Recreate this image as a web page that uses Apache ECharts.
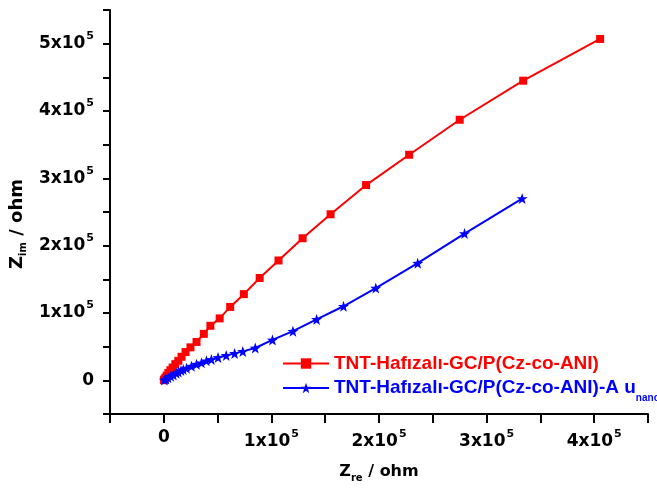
<!DOCTYPE html>
<html>
<head>
<meta charset="utf-8">
<script src="https://cdn.jsdelivr.net/npm/echarts@6/dist/echarts.min.js"></script>
<style>html,body{margin:0;padding:0;background:#fff;}#c{width:657px;height:489px;}</style>
</head>
<body>
<div id="c"></div>
<script>
// Data (ohm)
const redName = 'TNT-Hafızalı-GC/P(Cz-co-ANI)';
const blueName = 'TNT-Hafızalı-GC/P(Cz-co-ANI)-Au nano';
const redZre = [100, 600, 1500, 2700, 4200, 6100, 8200, 10700, 13500, 16500, 20200, 24800, 30400, 37200, 43300, 51900, 61700, 74400, 89100, 106600, 129000, 155000, 188000, 228000, 275000, 334000, 405500];
const redZim = [200, 1500, 4000, 7000, 11000, 15000, 19000, 24000, 29000, 35000, 42000, 49000, 57000, 69000, 81000, 92000, 109000, 128000, 152000, 178000, 211000, 246600, 290000, 335000, 387000, 445000, 507000];
const blueZre = [500, 2000, 4000, 6500, 8900, 11500, 13500, 16000, 18100, 21100, 25700, 30400, 35000, 39600, 44200, 50400, 58000, 65800, 73400, 85000, 101000, 120000, 142000, 167000, 197000, 236000, 279500, 333000];
const blueZim = [500, 2000, 4000, 6000, 8000, 10500, 12400, 14500, 16000, 18000, 21000, 24000, 26000, 29000, 31000, 34000, 37000, 40000, 43000, 48000, 60000, 73000, 90500, 110000, 137000, 174000, 218000, 270000];
const tickValues = [0, 100000, 200000, 300000, 400000, 500000];
const tickMantissa = ['0', '1x10', '2x10', '3x10', '4x10', '5x10'];
const tickExponent = ['', '5', '5', '5', '5', '5'];

const star = 'path://M0,-10L2.35,-3.24L9.51,-3.09L3.8,1.24L5.88,8.09L0,4L-5.88,8.09L-3.8,1.24L-9.51,-3.09L-2.35,-3.24Z';
const FONT = 'Liberation Sans';
const TFONT = 'DejaVu Sans';

function tickLabel(v) {
  const i = tickValues.indexOf(v);
  if (i < 0) return '';
  if (tickExponent[i] === '') return '{m|' + tickMantissa[i] + '}';
  return '{m|' + tickMantissa[i] + '}{e|' + tickExponent[i] + '}';
}
const labelRich = {
  m: {fontFamily: TFONT, fontWeight: 'bold', fontSize: 17, color: '#000'},
  e: {fontFamily: TFONT, fontWeight: 'bold', fontSize: 11, color: '#000', padding: [0, 0, 15, 1]}
};
function nameRich(size) {
  return {
    z: {fontFamily: TFONT, fontWeight: 'bold', fontSize: size, color: '#000'},
    s: {fontFamily: TFONT, fontWeight: 'bold', fontSize: 10, color: '#000', padding: [12, 0, 0, 0]}
  };
}

function zip(a, b) { return a.map((x, i) => [x, b[i]]); }

const chart = echarts.init(document.getElementById('c'), null, {renderer: 'canvas'});
chart.setOption({
  animation: false,
  backgroundColor: '#fff',
  grid: {left: 107, right: 9, top: 10, bottom: 75, containLabel: false},
  legend: {
    orient: 'vertical',
    left: 277,
    top: 349,
    itemWidth: 46,
    itemHeight: 13,
    itemGap: 0,
    data: [redName, blueName],
    formatter: function (n) {
      if (n === redName) return '{r|' + redName + '}';
      return '{b|TNT-Hafızalı-GC/P(Cz-co-ANI)-A u}{bs|nano}';
    },
    textStyle: {
      rich: {
        r: {fontFamily: FONT, fontWeight: 'bold', fontSize: 19, color: '#ff0000', lineHeight: 25},
        b: {fontFamily: FONT, fontWeight: 'bold', fontSize: 19, color: '#0000ff', lineHeight: 25},
        bs: {fontFamily: FONT, fontWeight: 'bold', fontSize: 10, color: '#0000ff', lineHeight: 5, padding: [20, 0, 0, 0]}
      }
    }
  },
  xAxis: {
    type: 'value',
    min: -50000, max: 450000, interval: 50000,
    splitLine: {show: false},
    axisLine: {onZero: false, lineStyle: {color: '#000', width: 2}},
    axisTick: {length: 9, lineStyle: {color: '#000', width: 2}},
    axisLabel: {margin: 15, formatter: tickLabel, rich: labelRich, showMinLabel: true, showMaxLabel: true},
    name: '{z|Z}{s|re}{z| / ohm}',
    nameLocation: 'middle',
    nameGap: 47,
    nameTextStyle: {rich: nameRich(16)}
  },
  yAxis: {
    type: 'value',
    min: -50000, max: 550000, interval: 50000,
    splitLine: {show: false},
    axisLine: {onZero: false, lineStyle: {color: '#000', width: 2}},
    axisTick: {length: 7, lineStyle: {color: '#000', width: 2}},
    axisLabel: {margin: 16, formatter: tickLabel, rich: labelRich},
    name: '{z|Z}{s|im}{z| / ohm}',
    nameLocation: 'middle',
    nameGap: 74,
    nameRotate: 90,
    nameTextStyle: {rich: nameRich(18), padding: [0, 24, 0, 0]}
  },
  series: [
    {
      name: redName, type: 'line', data: zip(redZre, redZim),
      symbol: 'rect', symbolSize: 8,
      itemStyle: {color: '#ff0000'},
      lineStyle: {color: '#ff0000', width: 2}
    },
    {
      name: blueName, type: 'line', data: zip(blueZre, blueZim),
      symbol: star, symbolSize: 11,
      itemStyle: {color: '#0000ff'},
      lineStyle: {color: '#0000ff', width: 2}
    }
  ]
});
</script>
</body>
</html>
